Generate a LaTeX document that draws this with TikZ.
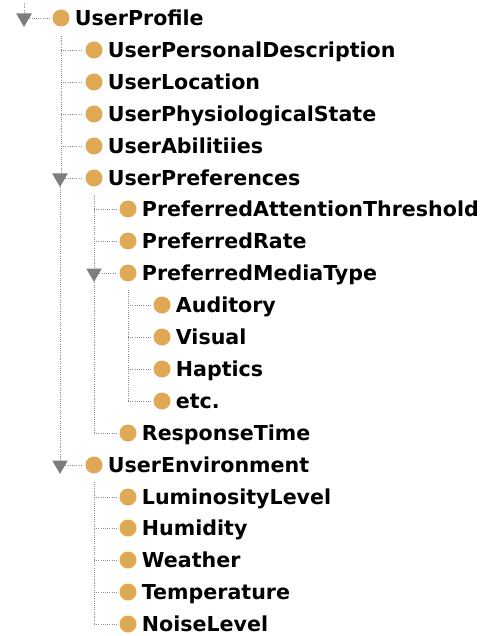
\documentclass[tikz,border=0pt]{standalone}
\usepackage{fontspec}
\setsansfont{DejaVu Sans}
\usepackage{tikz}
\usetikzlibrary{positioning,shapes.geometric}
\usepackage{xcolor}
\definecolor{owlgold}{RGB}{222,168,84}
\definecolor{trigray}{RGB}{125,125,125}

\tikzset{
    cls/.style={circle, fill=owlgold, minimum size=17pt, inner sep=0pt},
    lbl/.style={anchor=west, inner sep=0pt, text height=15pt, text depth=0pt,
        font=\sffamily\bfseries\fontsize{20.6}{20.6}\selectfont},
    tri/.style={regular polygon, regular polygon sides=3, shape border rotate=180,
        fill=trigray, minimum size=18pt, inner sep=0pt},
    link/.style={draw=black!45, line width=0.9pt, dash pattern=on 1pt off 1.2pt},
    leaf/.style={link, shorten >=2.5pt}
}

\begin{document}
\begin{tikzpicture}[x=1pt, y=-1pt]
    \useasboundingbox (0,0) rectangle (487,636);

    % root
    \coordinate (top) at (24,3);
    \node[tri] (profT) at (24,18) {};
    \node[cls] (prof) at (61,18) {};
    \node[lbl, right=5pt of prof] {UserProfile};

    % first level
    \node[cls] (desc) at (94,50) {};
    \node[lbl, right=5pt of desc] {UserPersonalDescription};
    \node[cls] (loc) at (94,82) {};
    \node[lbl, right=5pt of loc] {UserLocation};
    \node[cls] (phys) at (94,114) {};
    \node[lbl, right=5pt of phys] {UserPhysiologicalState};
    \node[cls] (abil) at (94,146) {};
    \node[lbl, right=5pt of abil] {UserAbilitiies};
    \node[tri] (prefT) at (60,178) {};
    \node[cls] (pref) at (94,178) {};
    \node[lbl, right=5pt of pref] {UserPreferences};
    \node[tri] (envT) at (60,465) {};
    \node[cls] (env) at (94,465) {};
    \node[lbl, right=5pt of env] {UserEnvironment};

    % preferences
    \node[cls] (att) at (128,209) {};
    \node[lbl, right=5pt of att] {PreferredAttentionThreshold};
    \node[cls] (rate) at (128,241) {};
    \node[lbl, right=5pt of rate] {PreferredRate};
    \node[tri] (mediaT) at (94,273) {};
    \node[cls] (media) at (128,273) {};
    \node[lbl, right=5pt of media] {PreferredMediaType};
    \node[cls] (resp) at (128,433) {};
    \node[lbl, right=5pt of resp] {ResponseTime};

    % media types
    \node[cls] (aud) at (162,305) {};
    \node[lbl, right=5pt of aud] {Auditory};
    \node[cls] (vis) at (162,337) {};
    \node[lbl, right=5pt of vis] {Visual};
    \node[cls] (hap) at (162,369) {};
    \node[lbl, right=5pt of hap] {Haptics};
    \node[cls] (etc) at (162,401) {};
    \node[lbl, right=5pt of etc] {etc.};

    % environment
    \node[cls] (lum) at (128,497) {};
    \node[lbl, right=5pt of lum] {LuminosityLevel};
    \node[cls] (hum) at (128,528) {};
    \node[lbl, right=5pt of hum] {Humidity};
    \node[cls] (wea) at (128,560) {};
    \node[lbl, right=5pt of wea] {Weather};
    \node[cls] (temp) at (128,592) {};
    \node[lbl, right=5pt of temp] {Temperature};
    \node[cls] (noise) at (128,624) {};
    \node[lbl, right=5pt of noise] {NoiseLevel};

    % dotted tree lines
    \draw[link] (top) -- (profT.north);
    \draw[leaf] (profT.east) -- (prof.west);
    \draw[link] ([yshift=-9pt]prof.south) -- (prof |- prefT.north);
    \draw[link] (prefT.south) -- (envT.north);
    \foreach \c in {desc,loc,phys,abil}
        \draw[leaf] (prof |- \c) -- (\c.west);
    \draw[leaf] (prefT.east) -- (pref.west);
    \draw[leaf] (envT.east) -- (env.west);

    \draw[link] ([yshift=-8pt]pref.south) -- (pref |- mediaT.north);
    \draw[link] (mediaT.south) -- (pref |- resp);
    \foreach \c in {att,rate,resp}
        \draw[leaf] (pref |- \c) -- (\c.west);
    \draw[leaf] (mediaT.east) -- (media.west);

    \draw[link] ([yshift=-8pt]media.south) -- (media |- etc);
    \foreach \c in {aud,vis,hap,etc}
        \draw[leaf] (media |- \c) -- (\c.west);

    \draw[link] ([yshift=-8pt]env.south) -- (env |- noise);
    \foreach \c in {lum,hum,wea,temp,noise}
        \draw[leaf] (env |- \c) -- (\c.west);
\end{tikzpicture}
\end{document}
